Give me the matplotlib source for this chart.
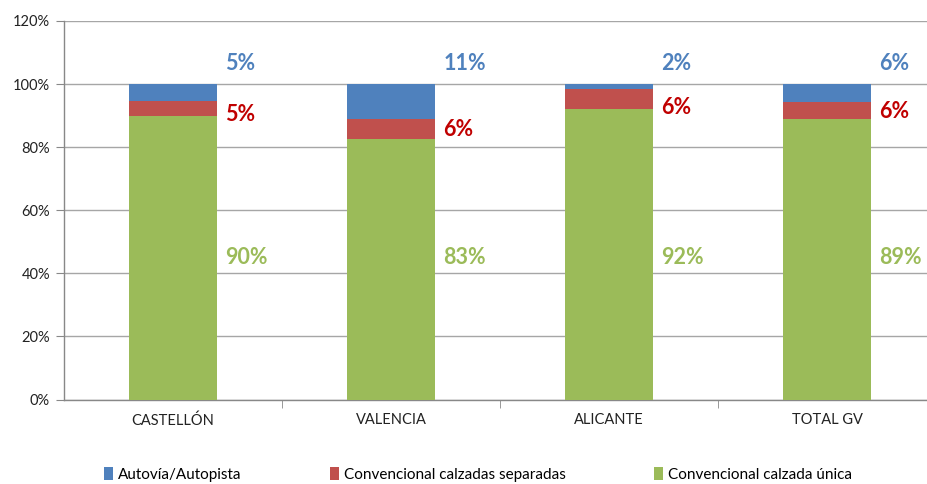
import matplotlib
matplotlib.use("Agg")
import matplotlib.pyplot as plt
import numpy as np
from matplotlib.patches import Patch

categories = ["CASTELLÓN", "VALENCIA", "ALICANTE", "TOTAL GV"]
series_names = ["Autovía/Autopista", "Convencional calzadas separadas", "Convencional calzada única"]
unica = [90.0, 82.6, 92.1, 88.8]
separadas = [4.7, 6.3, 6.3, 5.6]
autovia = [5.3, 11.1, 1.6, 5.6]
unica_labels = ["90%", "83%", "92%", "89%"]
separadas_labels = ["5%", "6%", "6%", "6%"]
autovia_labels = ["5%", "11%", "2%", "6%"]
yticks = [0, 20, 40, 60, 80, 100, 120]

c_blue, c_red, c_green = "#4F81BD", "#C0504D", "#9BBB59"
lbl_red = "#C00000"

plt.rcParams['font.family'] = ['Lato', 'DejaVu Sans']

fig = plt.figure(figsize=(9.28, 4.84), dpi=100)
ax = fig.add_axes([64/928, (484-399.5)/484, 872/928, (399.5-21)/484])

x = np.arange(len(categories))
w = 0.40
ax.bar(x, unica, w, color=c_green, zorder=3)
ax.bar(x, separadas, w, bottom=unica, color=c_red, zorder=3)
bot2 = np.array(unica) + np.array(separadas)
ax.bar(x, autovia, w, bottom=bot2, color=c_blue, zorder=3)

off = w/2 + 0.04
# label vertical placement (moved labels as in source)
red_label_y = [90.2, 85.6, 92.7, 91.4]
for i in range(len(categories)):
    ax.text(x[i] + off, 106.6, autovia_labels[i], color=c_blue, fontsize=15.5,
            fontweight='bold', ha='left', va='center', zorder=4)
    ax.text(x[i] + off, red_label_y[i], separadas_labels[i], color=lbl_red, fontsize=15.5,
            fontweight='bold', ha='left', va='center', zorder=4)
    ax.text(x[i] + off, 45.0, unica_labels[i], color=c_green, fontsize=15.5,
            fontweight='bold', ha='left', va='center', zorder=4)

ax.set_xlim(-0.5, 3.5)
ax.set_ylim(0, 120)
ax.set_yticks(yticks)
ax.set_yticklabels([f"{v}%" for v in yticks], fontsize=10.5, color="#222222")
ax.set_xticks(x)
ax.set_xticklabels(categories, fontsize=10.5, color="#222222")
ax.set_xticks([0.5, 1.5, 2.5], minor=True)
ax.tick_params(axis='x', which='major', length=0, pad=10)
ax.tick_params(axis='x', which='minor', length=6, color="#888888", direction='out')
ax.tick_params(axis='y', length=6, color="#888888", pad=4)
ax.yaxis.grid(True, color="#A6A6A6", linewidth=1.0, zorder=0)
ax.set_axisbelow(True)
for s in ['top', 'right']:
    ax.spines[s].set_visible(False)
for s in ['left', 'bottom']:
    ax.spines[s].set_color("#888888")
    ax.spines[s].set_linewidth(1.0)

handles = [Patch(facecolor=c_blue), Patch(facecolor=c_red), Patch(facecolor=c_green)]
fig.legend(handles, series_names, loc='center', bbox_to_anchor=(0.515, 0.02), ncol=3,
           frameon=False, fontsize=11, handlelength=0.6, handleheight=0.9,
           handletextpad=0.3, columnspacing=5.8, borderpad=0.2)

fig.savefig("out.png", dpi=100)
